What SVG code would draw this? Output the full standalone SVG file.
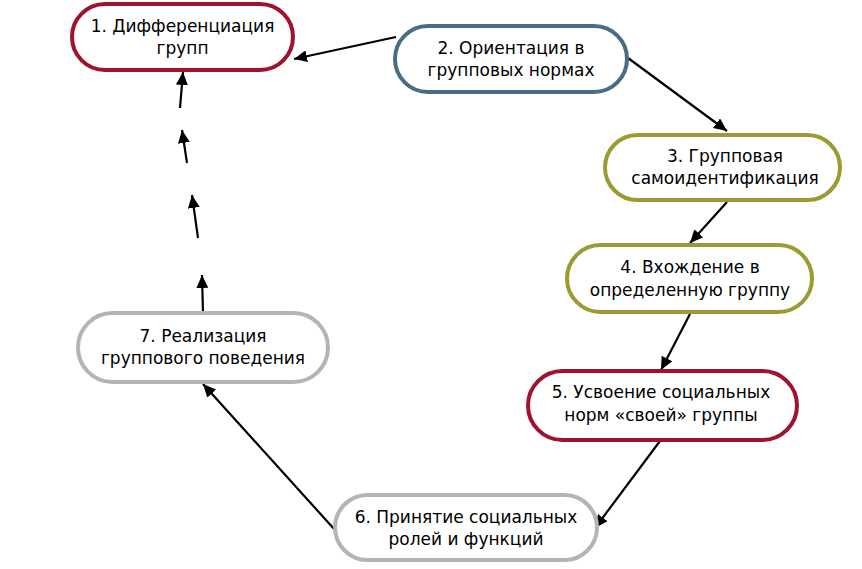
<svg xmlns="http://www.w3.org/2000/svg" width="862" height="569" viewBox="0 0 862 569">
<defs>
<marker id="ah" markerUnits="userSpaceOnUse" markerWidth="14" markerHeight="12" refX="13" refY="6" orient="auto">
<path d="M0,0 L13,6 L0,12 z" fill="#000"/>
</marker>
<style>
.n{fill:#fff;stroke-width:4}
.red{stroke:#A0122E}
.blue{stroke:#4B6D82}
.olive{stroke:#9B9B33}
.gray{stroke:#B4B4B4}
text{font-family:"DejaVu Sans","Noto Sans",sans-serif;font-size:17px;fill:#000;text-anchor:middle}
.c{stroke:#000;stroke-width:2.2;fill:none;marker-end:url(#ah)}
</style>
</defs>
<rect width="862" height="569" fill="#fff"/>
<g id="connectors">
<line class="c" x1="396" y1="37" x2="294" y2="59"/>
<line class="c" x1="628" y1="58" x2="727" y2="131"/>
<line class="c" x1="727" y1="202" x2="690" y2="243"/>
<line class="c" x1="690" y1="314" x2="661" y2="370"/>
<line class="c" x1="660" y1="441" x2="595" y2="528"/>
<line class="c" x1="335" y1="530" x2="203" y2="384"/>
<line class="c" x1="203" y1="313" x2="202" y2="275"/>
<line class="c" x1="198" y1="238" x2="192" y2="195"/>
<line class="c" x1="187" y1="163" x2="182" y2="130"/>
<line class="c" x1="180" y1="108" x2="183" y2="72"/>
</g>
<g id="node1">
<rect class="n red" x="72" y="4" width="221" height="66" rx="33"/>
<text x="182.5" y="32">1. Дифференциация</text>
<text x="182.5" y="54">групп</text>
</g>
<g id="node2">
<rect class="n blue" x="395" y="26" width="232" height="66" rx="33"/>
<text x="511" y="54">2. Ориентация в</text>
<text x="511" y="76">групповых нормах</text>
</g>
<g id="node3">
<rect class="n olive" x="605" y="135" width="235" height="65" rx="32.5"/>
<text x="725" y="162">3. Групповая</text>
<text x="725" y="184">самоидентификация</text>
</g>
<g id="node4">
<rect class="n olive" x="567" y="245" width="245" height="67" rx="33.5"/>
<text x="690" y="273">4. Вхождение в</text>
<text x="690" y="296">определенную группу</text>
</g>
<g id="node5">
<rect class="n red" x="528" y="371" width="269" height="69" rx="34.5"/>
<text x="661" y="398">5. Усвоение социальных</text>
<text x="661" y="421">норм «своей» группы</text>
</g>
<g id="node6">
<rect class="n gray" x="335" y="495" width="262" height="65" rx="32.5"/>
<text x="466" y="523">6. Принятие социальных</text>
<text x="466" y="545">ролей и функций</text>
</g>
<g id="node7">
<rect class="n gray" x="78" y="313" width="250" height="69" rx="34.5"/>
<text x="203" y="342">7. Реализация</text>
<text x="203" y="364">группового поведения</text>
</g>
</svg>
